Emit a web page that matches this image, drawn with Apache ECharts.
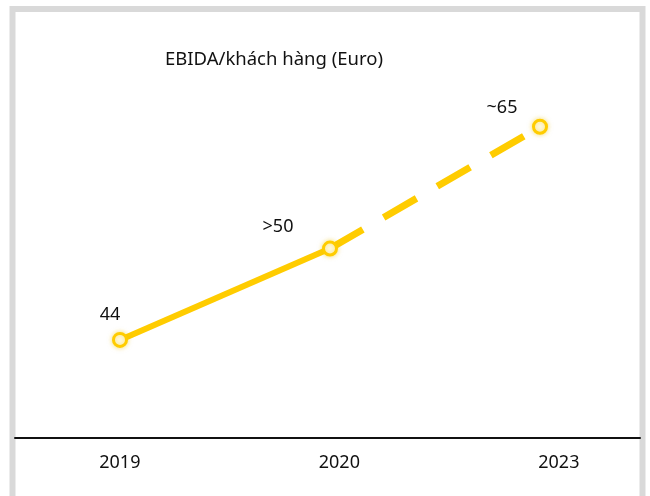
<!DOCTYPE html>
<html><head><meta charset="utf-8">
<script src="https://cdn.jsdelivr.net/npm/echarts@6/dist/echarts.min.js"></script>
<style>html,body{margin:0;padding:0;background:#fff}#c{width:650px;height:496px}</style>
</head><body><div id="c"></div>
<script>
const years = ['2019', '2020', '2023'];
const values = [44, 53, 65];
const valueLabels = ['44', '>50', '~65'];
const titleText = 'EBIDA/khách hàng (Euro)';

const gold = '#FFCC00';
const labelOffsets = [[-10, 0], [-52, 3], [-38, 6]];

const solidData = [0, 1].map(i => ({
  value: [i, values[i]],
  label: { show: true, formatter: valueLabels[i], offset: labelOffsets[i] }
}));
const dashedData = [1, 2].map(i => ({
  value: [i, values[i]],
  label: { show: i === 2, formatter: valueLabels[i], offset: labelOffsets[i] },
  symbol: i === 1 ? 'none' : 'circle'
}));

const chart = echarts.init(document.getElementById('c'));
chart.setOption({
  animation: false,
  title: {
    text: titleText, left: 160, top: 45,
    textStyle: { fontFamily: 'Noto Sans', fontSize: 18.5, fontWeight: 'normal', color: '#111' }
  },
  graphic: [{
    type: 'rect', silent: true,
    shape: { x: 12.5, y: 9, width: 630, height: 492 },
    style: { fill: 'none', stroke: '#d9d9d9', lineWidth: 6 }
  }],
  grid: [
    { left: 120, width: 420, top: 76, height: 406 },
    { left: 15, right: 10, top: 400, bottom: 58 }
  ],
  xAxis: [
    { gridIndex: 0, type: 'value', min: 0, max: 2, show: false },
    {
      gridIndex: 1, type: 'value', min: -0.4776, max: 2.3698,
      axisLine: { show: true, onZero: false, lineStyle: { color: '#111', width: 2 } },
      axisTick: { show: false }, splitLine: { show: false },
      axisLabel: {
        customValues: [0, 1, 2],
        formatter: v => years[Math.round(v)],
        margin: 16, fontFamily: 'Noto Sans', fontSize: 18, color: '#111'
      }
    }
  ],
  yAxis: [
    { gridIndex: 0, type: 'value', min: 30, max: 70, show: false },
    { gridIndex: 1, type: 'value', show: false }
  ],
  series: [
    {
      type: 'line', xAxisIndex: 0, yAxisIndex: 0, clip: false, z: 3,
      data: solidData,
      symbol: 'circle', symbolSize: 13,
      lineStyle: { color: gold, width: 6 },
      itemStyle: { color: '#fffbe6', borderColor: gold, borderWidth: 3, shadowBlur: 5, shadowColor: 'rgba(240,200,0,0.5)' },
      label: { position: 'top', distance: 8, fontFamily: 'Noto Sans', fontSize: 18, color: '#111' }
    },
    {
      type: 'line', xAxisIndex: 0, yAxisIndex: 0, clip: false, z: 2,
      data: dashedData,
      symbol: 'circle', symbolSize: 13,
      lineStyle: { color: gold, width: 7, type: [38, 24] },
      itemStyle: { color: '#fffbe6', borderColor: gold, borderWidth: 3, shadowBlur: 5, shadowColor: 'rgba(240,200,0,0.5)' },
      label: { position: 'top', distance: 8, fontFamily: 'Noto Sans', fontSize: 18, color: '#111' }
    }
  ]
});
</script></body></html>
